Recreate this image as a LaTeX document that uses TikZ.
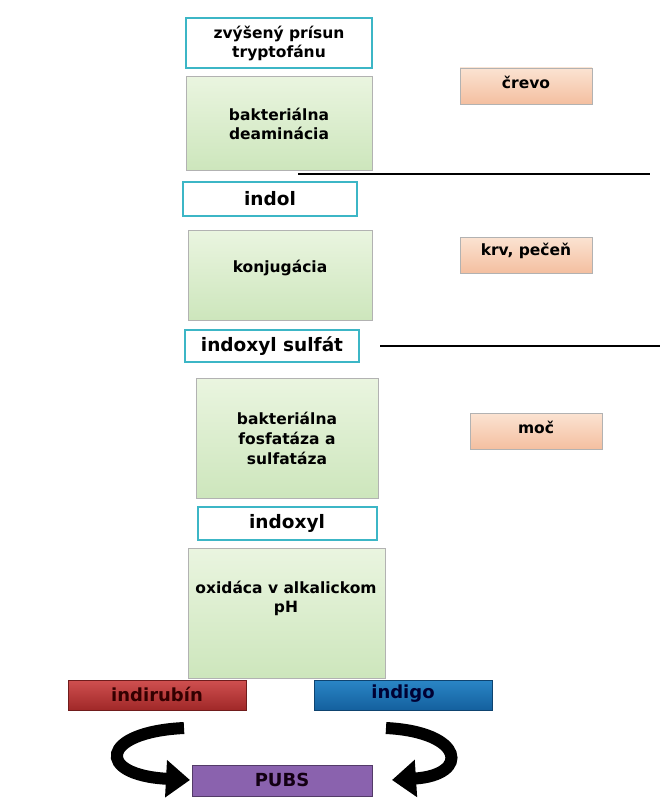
\documentclass[tikz,border=0pt]{standalone}
\usepackage{fontspec}
\setmainfont{DejaVu Sans}
\usetikzlibrary{arrows.meta}
\definecolor{cyb}{HTML}{3CB6C6}
\definecolor{grt}{HTML}{EAF5E0}
\definecolor{grb}{HTML}{CDE6BC}
\definecolor{pct}{HTML}{FBE3D2}
\definecolor{pcb}{HTML}{F4BFA0}
\definecolor{rdt}{HTML}{D05050}
\definecolor{rdb}{HTML}{A02828}
\definecolor{blt}{HTML}{2A86C6}
\definecolor{blb}{HTML}{14609E}
\definecolor{pur}{HTML}{8A62AE}
\begin{document}
\begin{tikzpicture}[x=1pt,y=-1pt,
  sm/.style={font=\bfseries\fontsize{15.5}{19}\selectfont, align=center},
  bg/.style={font=\bfseries\fontsize{18.5}{20}\selectfont, align=center},
  cl/.style={font=\bfseries\fontsize{18}{20}\selectfont, align=center},
  cyanbox/.style={draw=cyb, line width=2.5pt, fill=white},
  greenbox/.style={draw=gray!60, top color=grt, bottom color=grb},
  peachbox/.style={draw=gray!60, top color=pct, bottom color=pcb},
  curv/.style={line width=12pt, -{Triangle[length=24pt,width=36pt]}}]
\useasboundingbox (0,0) rectangle (663,800);
\draw[cyanbox] (186,18) rectangle (372,68);
\node[sm] (z) at (279,43) {zvýšený prísun\\tryptofánu};
\draw[greenbox] (186,76) rectangle (372,170);
\node[sm] (bd) at (279,124) {bakteriálna\\deaminácia};
\draw[peachbox] (460,68) rectangle (592,104);
\node[sm] (cr) at (526,82) {črevo};
\coordinate (l1a) at (298,174); \coordinate (l1b) at (650,174);
\draw[line width=1.5pt] (l1a) -- (l1b);
\draw[cyanbox] (183,182) rectangle (357,216);
\node[bg] (in) at (270,199) {indol};
\draw[greenbox] (188,230) rectangle (372,320);
\node[sm] (ko) at (280,268) {konjugácia};
\draw[peachbox] (460,237) rectangle (592,273);
\node[sm] (kp) at (526,251) {krv, pečeň};
\draw[cyanbox] (185,330) rectangle (359,362);
\node[bg] (is) at (272,346) {indoxyl sulfát};
\coordinate (l2a) at (380,346); \coordinate (l2b) at (660,346);
\draw[line width=1.5pt] (l2a) -- (l2b);
\draw[greenbox] (196,378) rectangle (378,498);
\node[sm,font=\bfseries\fontsize{15.5}{20}\selectfont] (fs) at (287,438) {bakteriálna\\fosfatáza a\\sulfatáza};
\draw[peachbox] (470,413) rectangle (602,449);
\node[sm] (mo) at (536,427) {moč};
\draw[cyanbox] (198,507) rectangle (377,540);
\node[bg] (ix) at (287,523) {indoxyl};
\draw[greenbox] (188,548) rectangle (385,678);
\node[sm] (ox) at (286,598) {oxidáca v alkalickom\\pH};
\draw[draw=rdb!70!black, top color=rdt, bottom color=rdb] (68,680) rectangle (246,710);
\node[cl,text=black!80!red] (ir) at (157,694) {indirubín};
\draw[draw=blb!70!black, top color=blt, bottom color=blb] (314,680) rectangle (492,710);
\node[cl,text=black!80!blue] (ig) at (403,694) {indigo};
\draw[draw=pur!60!black, fill=pur] (192,765) rectangle (372,796);
\node[cl,text=black!85!violet] (pb) at (282,780) {PUBS};
\coordinate (a1) at (184,728); \coordinate (a2) at (386,728);
\draw[curv] (a1) .. controls (100,732) and (95,775) .. (190,780);
\draw[curv] (a2) .. controls (465,732) and (470,775) .. (392,780);
\end{tikzpicture}
\end{document}
